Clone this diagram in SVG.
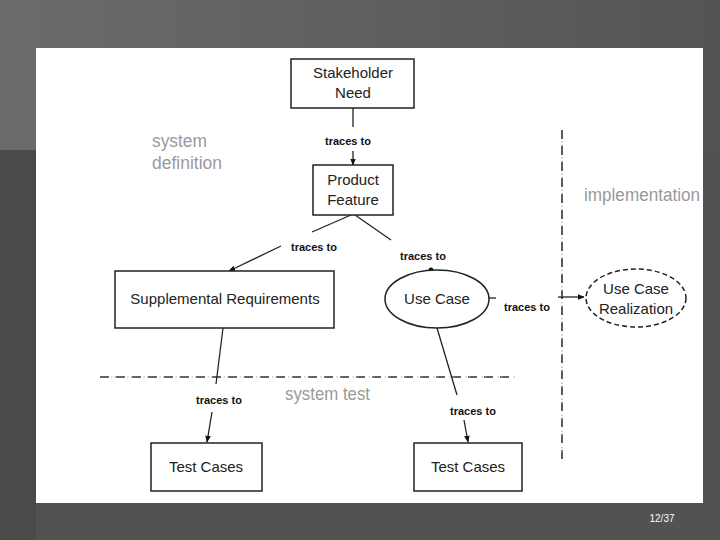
<svg xmlns="http://www.w3.org/2000/svg" width="720" height="540" viewBox="0 0 720 540">
<defs>
<linearGradient id="topg" x1="0" y1="0" x2="1" y2="0">
<stop offset="0" stop-color="#6b6b6b"/>
<stop offset="1" stop-color="#545454"/>
</linearGradient>
<marker id="ah" viewBox="0 0 10 10" refX="9" refY="5" markerWidth="7" markerHeight="7" orient="auto" markerUnits="userSpaceOnUse">
<path d="M0,1 L10,5 L0,9 Z" fill="#111"/>
</marker>
<style>
.box{fill:#fff;stroke:#222;stroke-width:1.5}
.nt{font-family:"Liberation Sans",Arial,sans-serif;font-size:15px;fill:#222;text-anchor:middle}
.lb{font-family:"Liberation Sans",Arial,sans-serif;font-size:11px;font-weight:bold;fill:#111;text-anchor:middle}
.zone{font-family:"Liberation Sans",Arial,sans-serif;font-size:18px;fill:#9a9a9a}
.cn{fill:none;stroke:#222;stroke-width:1.3}
.sep{fill:none;stroke:#333;stroke-width:1.6;stroke-dasharray:9,7}
.sepdot{fill:none;stroke:#aaa;stroke-width:1.2;stroke-dasharray:0,11,1.5,2,1.5,0.1}
</style>
</defs>
<rect x="0" y="0" width="720" height="540" fill="#525252"/>
<rect x="0" y="0" width="720" height="150" fill="url(#topg)"/>
<rect x="0" y="150" width="36" height="390" fill="#4a4a4a"/>
<rect x="36" y="48" width="667" height="455" fill="#fff"/>
<text x="662" y="522" font-family="Liberation Sans,Arial,sans-serif" font-size="10" fill="#fff" text-anchor="middle">12/37</text>

<g id="zones">
<text class="zone" x="152" y="147" textLength="55" lengthAdjust="spacingAndGlyphs">system</text>
<text class="zone" x="152" y="169" textLength="70" lengthAdjust="spacingAndGlyphs">definition</text>
<text class="zone" x="584" y="201" textLength="116" lengthAdjust="spacingAndGlyphs">implementation</text>
<text class="zone" x="285" y="400" textLength="85" lengthAdjust="spacingAndGlyphs">system test</text>
<line class="sep" x1="562" y1="130" x2="562" y2="460"/>
<line class="sepdot" x1="562" y1="130" x2="562" y2="460"/>
<line class="sep" x1="100" y1="377" x2="515" y2="377"/>
<line class="sepdot" x1="100" y1="377" x2="515" y2="377"/>
</g>

<g id="connectors">
<line class="cn" x1="353" y1="108" x2="353" y2="127"/>
<text class="lb" x="348" y="145">traces to</text>
<line class="cn" x1="353" y1="151" x2="353" y2="165" marker-end="url(#ah)"/>

<line class="cn" x1="351" y1="215" x2="312" y2="232"/>
<text class="lb" x="314" y="251">traces to</text>
<line class="cn" x1="281" y1="246" x2="229" y2="271" marker-end="url(#ah)"/>

<line class="cn" x1="355" y1="215" x2="391" y2="240"/>
<text class="lb" x="423" y="260">traces to</text>
<circle cx="431" cy="270" r="2.5" fill="#111"/>

<line class="cn" x1="489" y1="298" x2="496" y2="298"/>
<text class="lb" x="527" y="311">traces to</text>
<line class="cn" x1="558" y1="297" x2="584" y2="297" marker-end="url(#ah)"/>

<line class="cn" x1="223" y1="328" x2="216" y2="384"/>
<text class="lb" x="219" y="404">traces to</text>
<line class="cn" x1="212" y1="412" x2="207" y2="442" marker-end="url(#ah)"/>

<line class="cn" x1="437" y1="328" x2="457" y2="395"/>
<text class="lb" x="473" y="415">traces to</text>
<line class="cn" x1="464" y1="420" x2="468" y2="442" marker-end="url(#ah)"/>
</g>

<g id="stakeholder-need">
<rect class="box" x="291" y="59" width="123" height="49"/>
<text class="nt" x="353" y="78">Stakeholder</text>
<text class="nt" x="353" y="98">Need</text>
</g>
<g id="product-feature">
<rect class="box" x="313" y="165" width="80" height="50"/>
<text class="nt" x="353" y="185">Product</text>
<text class="nt" x="353" y="205">Feature</text>
</g>
<g id="supplemental-requirements">
<rect class="box" x="115" y="271" width="219" height="57"/>
<text class="nt" x="225" y="304">Supplemental Requirements</text>
</g>
<g id="use-case">
<ellipse class="box" cx="437" cy="299" rx="52" ry="29"/>
<text class="nt" x="437" y="304">Use Case</text>
</g>
<g id="use-case-realization">
<ellipse class="box" cx="636" cy="298" rx="50" ry="29" stroke-dasharray="5,3"/>
<text class="nt" x="636" y="294">Use Case</text>
<text class="nt" x="636" y="314">Realization</text>
</g>
<g id="test-cases-1">
<rect class="box" x="151" y="443" width="111" height="48"/>
<text class="nt" x="206" y="472">Test Cases</text>
</g>
<g id="test-cases-2">
<rect class="box" x="414" y="443" width="108" height="48"/>
<text class="nt" x="468" y="472">Test Cases</text>
</g>
</svg>
